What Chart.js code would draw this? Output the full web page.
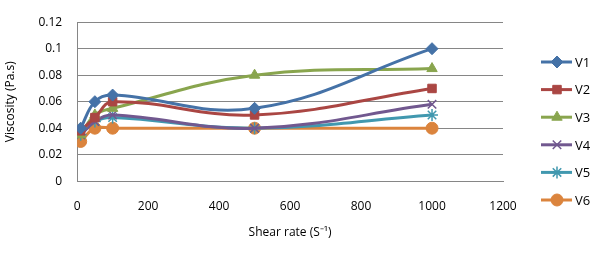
<!DOCTYPE html>
<html>
<head>
<meta charset="utf-8">
<script src="https://cdn.jsdelivr.net/npm/chart.js@4/dist/chart.umd.min.js"></script>
<style>
  html, body { margin: 0; padding: 0; background: #fff; }
  #wrap { width: 600px; height: 253px; }
</style>
</head>
<body>
<div id="wrap"><canvas id="myChart" width="600" height="253"></canvas></div>
<script>
// Data
const shearRate = [10, 50, 100, 500, 1000];
const v1 = [0.040, 0.060, 0.065, 0.055, 0.100];
const v2 = [0.038, 0.048, 0.060, 0.050, 0.070];
const v3 = [0.035, 0.050, 0.055, 0.080, 0.085];
const v4 = [0.035, 0.045, 0.050, 0.040, 0.058];
const v5 = [0.035, 0.045, 0.048, 0.040, 0.050];
const v6 = [0.030, 0.040, 0.040, 0.040, 0.040];
const seriesNames = ['V1', 'V2', 'V3', 'V4', 'V5', 'V6'];
const xTicks = [0, 200, 400, 600, 800, 1000, 1200];
const yTicks = [0, 0.02, 0.04, 0.06, 0.08, 0.1, 0.12];

const colors = ['#4572A7', '#AA4643', '#89A54E', '#71588F', '#4198AF', '#DB843D'];
const markers = ['rectRot', 'rect', 'triangle', 'crossRot', 'star', 'circle'];
const sizes = [6, 6, 6, 6, 6, 6];
const allSeries = [v1, v2, v3, v4, v5, v6];

const FONT = '"Open Sans", sans-serif';

const datasets = allSeries.map(function(vals, i) {
    return {
        label: seriesNames[i],
        data: vals.map(function(v, j) { return { x: shearRate[j], y: v }; }),
        showLine: true,
        tension: 0.4,
        borderColor: colors[i],
        backgroundColor: colors[i],
        borderWidth: 3,
        pointStyle: markers[i],
        pointRadius: sizes[i],
        pointBorderWidth: (markers[i] === 'crossRot' || markers[i] === 'star') ? 1.5 : 1,
        pointBorderColor: colors[i],
        pointBackgroundColor: colors[i]
    };
});

// Legend drawn by hand so each entry shows line + marker like the original
const sideLegend = {
    id: 'sideLegend',
    afterDraw(chart) {
        const ctx = chart.ctx;
        ctx.save();
        chart.data.datasets.forEach(function(ds, i) {
            const y = 62 + i * 27.6;
            ctx.strokeStyle = ds.borderColor;
            ctx.lineWidth = 3;
            ctx.beginPath();
            ctx.moveTo(541, y);
            ctx.lineTo(572, y);
            ctx.stroke();
            ctx.fillStyle = ds.borderColor;
            ctx.lineWidth = ds.pointBorderWidth;
            Chart.helpers.drawPoint(ctx, {
                pointStyle: ds.pointStyle,
                radius: ds.pointRadius,
                borderWidth: ds.pointBorderWidth
            }, 557, y);
            ctx.fillStyle = '#000';
            ctx.font = '13px ' + FONT;
            ctx.textBaseline = 'middle';
            ctx.textAlign = 'left';
            ctx.fillText(ds.label, 575, y + 1);
        });
        ctx.restore();
    }
};

const config = {
    type: 'scatter',
    data: { datasets: datasets },
    options: {
        responsive: false,
        animation: false,
        layout: { padding: { left: 3, right: 97, top: 15, bottom: 13 } },
        plugins: {
            legend: { display: false },
            tooltip: { enabled: false }
        },
        scales: {
            x: {
                type: 'linear',
                min: 0,
                max: 1200,
                afterBuildTicks: function(axis) {
                    axis.ticks = xTicks.map(function(v) { return { value: v }; });
                },
                grid: { display: false, drawTicks: false },
                border: { display: true, color: '#868686', width: 1 },
                ticks: {
                    color: '#000',
                    font: { family: FONT, size: 12 },
                    padding: 18,
                    maxRotation: 0,
                    callback: function(v) { return String(v); }
                },
                title: {
                    display: true,
                    text: 'Shear rate (S\u207B\u00B9)',
                    color: '#000',
                    font: { family: FONT, size: 12 },
                    padding: { top: -6, bottom: 0 }
                }
            },
            y: {
                min: 0,
                max: 0.12,
                afterBuildTicks: function(axis) {
                    axis.ticks = yTicks.map(function(v) { return { value: v }; });
                },
                grid: { color: '#868686', drawTicks: false },
                border: { display: true, color: '#868686', width: 1 },
                ticks: {
                    color: '#000',
                    font: { family: FONT, size: 12 },
                    padding: 15,
                    callback: function(v) { return String(Math.round(v * 100) / 100); }
                },
                title: {
                    display: true,
                    text: 'Viscosity (Pa.s)',
                    color: '#000',
                    font: { family: FONT, size: 12 },
                    padding: { top: 0, bottom: 6 }
                }
            }
        }
    },
    plugins: [sideLegend]
};

const myChart = new Chart(document.getElementById('myChart'), config);
</script>
</body>
</html>
